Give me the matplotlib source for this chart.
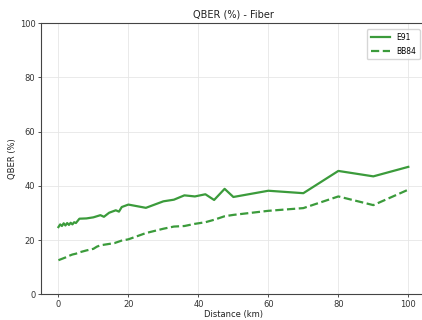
import matplotlib.pyplot as plt

# QBER vs fiber distance for the two protocols
e91_dist = [0, 0.5, 1, 1.5, 2, 2.5, 3, 3.5, 4, 4.5, 5, 6, 8, 10, 12, 13,
            14.5, 16.4, 17.3, 18.1, 20, 25, 30, 33, 36, 39, 42, 44.5, 47.5,
            50, 60, 70, 80, 90, 100]
e91_qber = [24.8, 25.8, 25.2, 26.2, 25.4, 26.3, 25.6, 26.4, 25.8, 26.6, 26.3,
            27.9, 28.0, 28.4, 29.2, 28.6, 30.1, 31.0, 30.5, 32.2, 33.1, 31.9,
            34.3, 34.9, 36.5, 36.1, 36.9, 34.8, 38.9, 35.9, 38.2, 37.3, 45.5,
            43.5, 47.0]

bb84_dist = [0, 1, 2, 3, 4, 5, 6, 8, 10, 11, 12, 14, 16, 18, 20, 25, 30, 33,
             36, 39, 42, 44.5, 47.5, 50, 60, 70, 80, 90, 100]
bb84_qber = [12.6, 13.1, 13.6, 14.2, 14.7, 15.0, 15.5, 16.2, 16.8, 17.6, 18.1,
             18.5, 18.9, 19.8, 20.3, 22.6, 24.2, 25.0, 25.2, 26.0, 26.6, 27.5,
             28.8, 29.3, 30.8, 31.8, 36.1, 32.9, 38.6]

green = '#3b9b3b'

fig = plt.figure(figsize=(4.22, 3.2), dpi=100)
ax = fig.add_axes([0.097, 0.08, 0.912, 0.848])

ax.plot(e91_dist, e91_qber, color=green, lw=1.6, label='E91')
ax.plot(bb84_dist, bb84_qber, color=green, lw=1.6, ls='--', label='BB84')

ax.set_xlim(-5, 105)
ax.set_ylim(0, 100)
ax.set_xticks([0, 20, 40, 60, 80, 100])
ax.set_yticks([0, 20, 40, 60, 80, 100])
ax.grid(True, color='#e6e6e6', lw=0.6)
ax.set_axisbelow(True)
ax.tick_params(labelsize=6, length=2.5, width=0.6, pad=1.5, colors='#333333')
for s in ax.spines.values():
    s.set_color('#444444')
    s.set_linewidth(0.8)

ax.set_title('QBER (%) - Fiber', fontsize=7, color='#222222', pad=4)
ax.set_xlabel('Distance (km)', fontsize=6, color='#222222', labelpad=1)
ax.set_ylabel('QBER (%)', fontsize=6, color='#222222', labelpad=2)
ax.legend(loc='upper right', fontsize=5.5, frameon=True, handlelength=2.5,
          borderpad=0.5, labelspacing=0.6, borderaxespad=0.8)

fig.savefig('out.png', dpi=100)
